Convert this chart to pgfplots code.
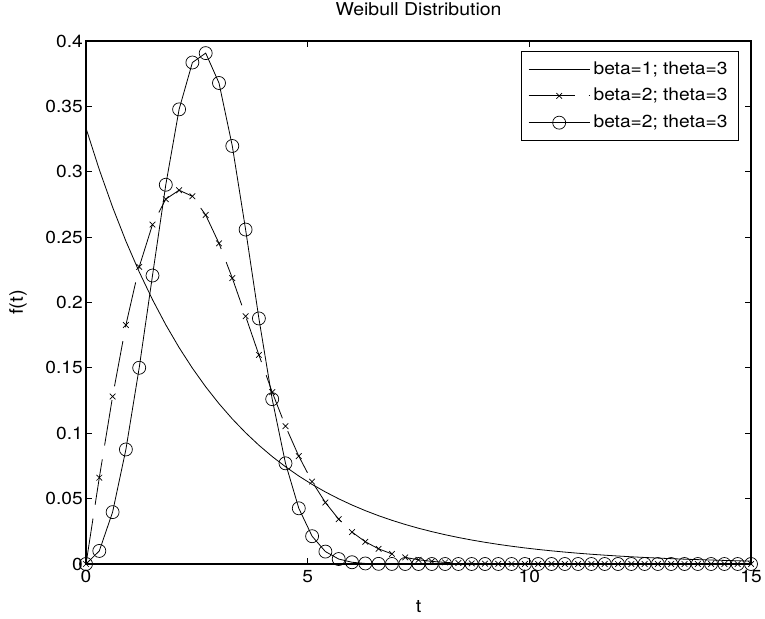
\documentclass[border=0pt]{standalone}
\usepackage{fontspec}
\setmainfont[FakeStretch=1.1]{TeX Gyre Heros}
\usepackage{graphicx}
\usepackage{pgfplots}
\pgfplotsset{compat=1.18}
\newcommand{\bigtext}{\fontsize{17.5}{21}\selectfont}

\begin{document}
\bigtext
\begin{tikzpicture}
\useasboundingbox (-86bp,-55bp) rectangle (679bp,564bp);
\begin{axis}[
  at={(0,0)}, anchor=south west,
  scale only axis,
  width=665bp, height=523bp,
  xmin=0, xmax=15, ymin=0, ymax=0.4,
  title={\resizebox{166bp}{!}{\bigtext Weibull Distribution}},
  title style={font=\bigtext, at={(axis description cs:0.5,1.0497)}, anchor=center},
  xlabel={\resizebox{5.5bp}{!}{\bigtext t}},
  xlabel style={font=\bigtext, at={(axis description cs:0.5,-0.0822)}, anchor=center},
  ylabel={\resizebox{25bp}{!}{\bigtext f(t)}},
  ylabel style={font=\bigtext, at={(axis description cs:-0.1023,0.5)}, anchor=center},
  xtick={0,5,10,15},
  ytick={0,0.05,0.1,0.15,0.2,0.25,0.3,0.35,0.4},
  yticklabels={0,0.05,0.1,0.15,0.2,0.25,0.3,0.35,0.4},
  scaled y ticks=false,
  tick align=inside,
  xtick pos=both, ytick pos=both,
  major tick length=6bp,
  minor tick num=0,
  axis line style={line width=1.1bp},
  major tick style={black, line width=0.8bp},
  /pgf/number format/assume math mode=true,
  tick label style={font=\bigtext},
  yticklabel style={inner xsep=3bp},
  clip=false,
  legend cell align=left,
  legend style={
    at={(axis description cs:0.981,0.9809)}, anchor=north east,
    draw=black, line width=0.8bp, font=\bigtext,
    inner xsep=7bp, inner ysep=8bp,
    row sep=7.5bp,
    nodes={inner xsep=3.5bp},
  },
  legend image code/.code={
    \draw[mark repeat=2, mark phase=2, #1]
      plot coordinates {(0bp,0bp) (30.5bp,0bp) (61bp,0bp)};
  },
]
% beta=1, theta=3
\addplot[black, line width=0.8bp, no marks] table {
t     f
0.0   0.33333
0.3   0.30161
0.6   0.27291
0.9   0.24694
1.2   0.22344
1.5   0.20218
1.8   0.18294
2.1   0.16553
2.4   0.14978
2.7   0.13552
3.0   0.12263
3.3   0.11096
3.6   0.10040
3.9   0.09084
4.2   0.08220
4.5   0.07438
4.8   0.06730
5.1   0.06089
5.4   0.05510
5.7   0.04986
6.0   0.04511
6.3   0.04082
6.6   0.03693
6.9   0.03342
7.2   0.03024
7.5   0.02736
7.8   0.02476
8.1   0.02240
8.4   0.02027
8.7   0.01834
9.0   0.01660
9.3   0.01502
9.6   0.01359
9.9   0.01229
10.2  0.01112
10.5  0.01007
10.8  0.00911
11.1  0.00824
11.4  0.00746
11.7  0.00675
12.0  0.00611
12.3  0.00552
12.6  0.00500
12.9  0.00452
13.2  0.00409
13.5  0.00370
13.8  0.00335
14.1  0.00303
14.4  0.00274
14.7  0.00248
15.0  0.00225
};
\addlegendentry{beta=1; theta=3}
% beta=2, theta=3
\addplot[black, line width=0.8bp, dash pattern=on 46bp off 14bp,
  mark=x, mark size=4bp, mark options={solid, line width=0.7bp}] table {
t     f
0.0   0
0.3   0.06600
0.6   0.12811
0.9   0.18279
1.2   0.22724
1.5   0.25960
1.8   0.27907
2.1   0.28589
2.4   0.28122
2.7   0.26691
3.0   0.24525
3.3   0.21868
3.6   0.18954
3.9   0.15992
4.2   0.13147
4.5   0.10540
4.8   0.08246
5.1   0.06299
5.4   0.04700
5.7   0.03427
6.0   0.02442
6.3   0.01702
6.6   0.01160
6.9   0.00773
7.2   0.00504
7.5   0.00322
7.8   0.00201
8.1   0.00123
8.4   0.00073
8.7   0.00043
9.0   0.00025
9.3   0.00014
9.6   0.00008
9.9   0.00004
10.2  0.00002
10.5  0.00001
10.8  0
11.1  0
11.4  0
11.7  0
12.0  0
12.3  0
12.6  0
12.9  0
13.2  0
13.5  0
13.8  0
14.1  0
14.4  0
14.7  0
15.0  0
};
\addlegendentry{beta=2; theta=3}
% third curve
\addplot[black, line width=0.8bp,
  mark=o, mark size=6.5bp, mark options={solid, line width=0.7bp}] table {
t     f
0.0   0
0.3   0.00999
0.6   0.03968
0.9   0.08760
1.2   0.15008
1.5   0.22062
1.8   0.29006
2.1   0.34772
2.4   0.38355
2.7   0.39074
3.0   0.36788
3.3   0.31971
3.6   0.25580
3.9   0.18779
4.2   0.12607
4.5   0.07699
4.8   0.04260
5.1   0.02125
5.4   0.00950
5.7   0.00379
6.0   0.00134
6.3   0.00042
6.6   0.00012
6.9   0.00003
7.2   0.00001
7.5   0
7.8   0
8.1   0
8.4   0
8.7   0
9.0   0
9.3   0
9.6   0
9.9   0
10.2  0
10.5  0
10.8  0
11.1  0
11.4  0
11.7  0
12.0  0
12.3  0
12.6  0
12.9  0
13.2  0
13.5  0
13.8  0
14.1  0
14.4  0
14.7  0
15.0  0
};
\addlegendentry{beta=2; theta=3}
\end{axis}
\end{tikzpicture}
\end{document}
